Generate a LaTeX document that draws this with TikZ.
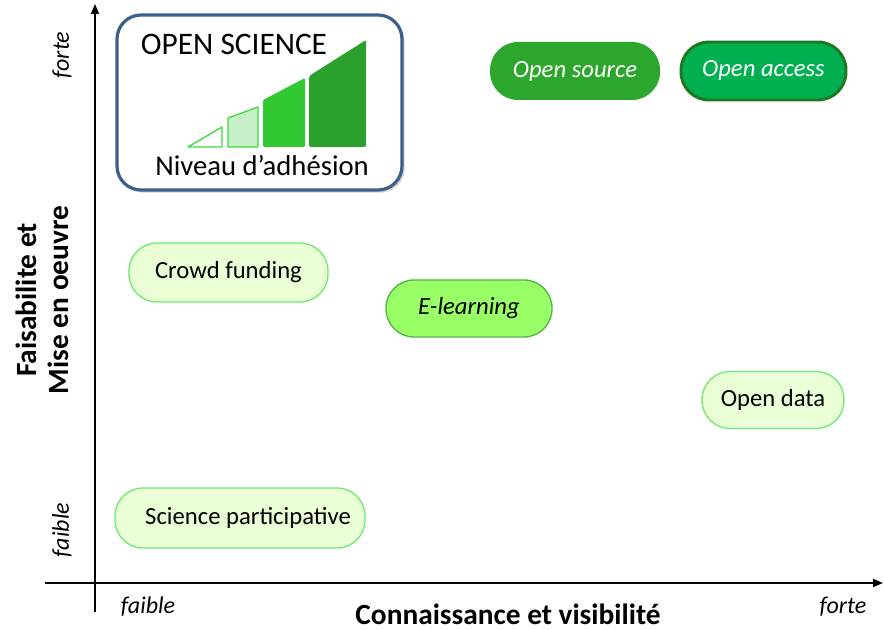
\documentclass[tikz,border=0pt]{standalone}
\usepackage{fontspec}
\setmainfont{Carlito}
\usetikzlibrary{arrows.meta,shadows}
\definecolor{osgreen}{RGB}{44,166,44}
\definecolor{oagreen}{RGB}{0,176,80}
\definecolor{oaborder}{RGB}{30,120,30}
\definecolor{palefill}{RGB}{234,255,213}
\definecolor{paleborder}{RGB}{110,235,110}
\definecolor{elfill}{RGB}{153,255,102}
\definecolor{elborder}{RGB}{80,180,70}
\definecolor{boxblue}{RGB}{60,95,140}
\definecolor{bar1}{RGB}{60,220,60}
\definecolor{bar2}{RGB}{200,240,200}
\definecolor{bar3}{RGB}{50,200,50}
\definecolor{bar4}{RGB}{44,160,44}
\tikzset{
  pill/.style 2 args={rectangle, rounded corners=21pt, inner sep=0pt,
    minimum width={#1*0.75pt}, minimum height={#2*0.75pt}, font=\fontsize{18.5}{22}\selectfont},
  pillit/.style={font=\itshape\fontsize{18.5}{22}\selectfont},
  pale/.style={fill=palefill, draw=paleborder, line width=1pt},
  axis/.style={line width=1.1pt, -{Triangle[length=7.5pt,width=6pt]}},
  axlab/.style={font=\bfseries\fontsize{22}{24}\selectfont},
  tick/.style={font=\itshape\fontsize{18}{21}\selectfont},
}
\begin{document}
\begin{tikzpicture}[x=0.75pt,y=-0.75pt]
\useasboundingbox (0,0) rectangle (884,630);
% axes
\coordinate (yb) at (95,612);
\coordinate (yt) at (95,4);
\coordinate (xl) at (45,583);
\coordinate (xr) at (883,583);
\draw[axis] (yb) -- (yt);
\draw[axis] (xl) -- (xr);
% axis labels
\node[tick, rotate=90] (yforte) at (62,55) {forte};
\node[tick, rotate=90] (yfaible) at (62,530) {faible};
\node[axlab, rotate=90, align=center] (ytitle) at (42,300) {Faisabilite et\\Mise en oeuvre};
\node[tick] (xfaible) at (148,607) {faible};
\node[tick] (xforte) at (843,607) {forte};
\node[axlab] (xtitle) at (508,614) {Connaissance et visibilité};
% legend
\node[draw=boxblue, line width=2.4pt, fill=white, rounded corners=18pt,
      minimum width={285*0.75pt}, minimum height={175*0.75pt},
      drop shadow={shadow xshift=2pt, shadow yshift=-2pt, opacity=0.35}] (legend) at (259.5,102.5) {};
\node[font=\fontsize{23.5}{27}\selectfont] (ostitle) at (234,44) {OPEN SCIENCE};
\node[font=\fontsize{21.5}{26}\selectfont] (niveau) at (262,166) {Niveau d’adhésion};
\draw[draw=bar1, fill=white, line width=1pt, line join=round] (188,147) -- (222,127) -- (222,147) -- cycle;
\draw[draw=bar1, fill=bar2, line width=1pt, line join=round] (228,147) -- (228,118) -- (258,107) -- (258,147) -- cycle;
\fill[bar3, rounded corners=1pt] (263,147) -- (263,100) -- (305,78) -- (305,147) -- cycle;
\fill[bar4, rounded corners=1.5pt] (309,147) -- (309,76) -- (366,40) -- (366,147) -- cycle;
% pills
\node[pill={170}{58}, fill=osgreen, text=white, pillit] (os) at (575,71) {\raisebox{2pt}{Open source}};
\node[pill={165}{58}, fill=oagreen, draw=oaborder, line width=2.2pt, text=white, pillit] (oa) at (763.5,71) {\raisebox{4pt}{Open access}};
\node[pill={199}{59}, pale] (cf) at (228.5,272.5) {Crowd funding};
\node[pill={166}{57}, fill=elfill, draw=elborder, line width=1pt, pillit] (el) at (469,308.5) {\raisebox{3pt}{E-learning}};
\node[pill={142}{57}, pale] (od) at (773,400) {\raisebox{3pt}{Open data}};
\node[pill={250}{60}, pale] (sp) at (240,518) {\hspace{12pt}Science participative};
\end{tikzpicture}
\end{document}
